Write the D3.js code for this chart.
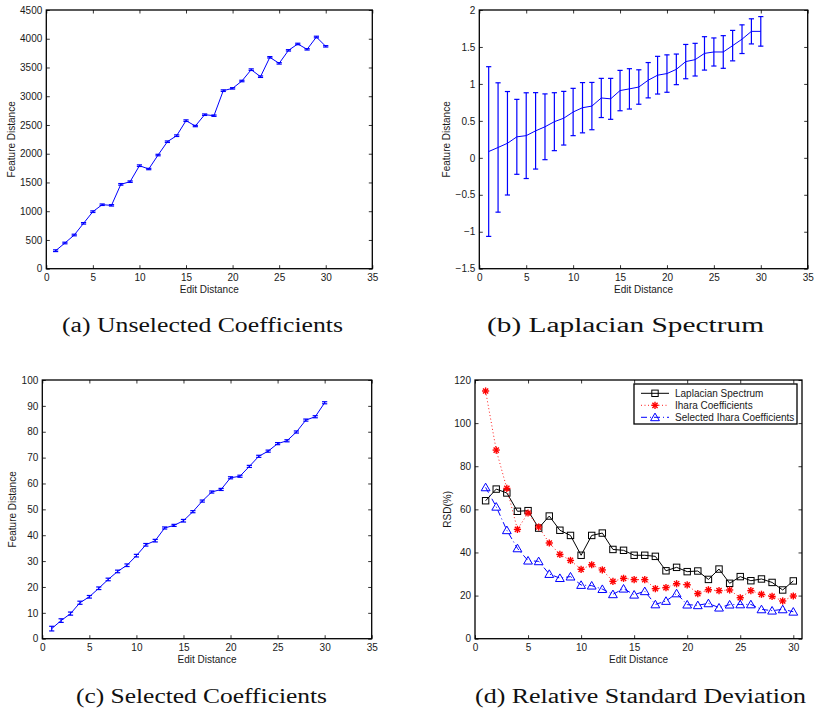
<!DOCTYPE html>
<html>
<head>
<meta charset="utf-8">
<script src="https://cdn.jsdelivr.net/npm/d3@7"></script>
<style>
  html, body { margin: 0; padding: 0; background: #fff; }
  svg { display: block; }
</style>
</head>
<body>
<svg id="chart" width="814" height="713"></svg>
<script>
// ---------------- DATA ----------------
const editDistance = [1,2,3,4,5,6,7,8,9,10,11,12,13,14,15,16,17,18,19,20,21,22,23,24,25,26,27,28,29,30];

// (a) Unselected coefficients: mean feature distance and (tiny) error
const unselectedMean = [313,447,586,789,992,1113,1102,1467,1514,1792,1734,1977,2209,2314,2575,2482,2679,2662,3097,3137,3265,3462,3340,3677,3572,3798,3909,3816,4030,3868];
const unselectedErr  = [15,14,14,13,14,13,12,14,13,14,12,13,13,14,14,12,13,12,14,12,13,14,13,12,13,12,13,12,14,12];

// (b) Laplacian spectrum: mean and error
const laplacianMean = [0.085,0.14,0.197,0.284,0.30,0.365,0.42,0.489,0.536,0.62,0.678,0.70,0.81,0.798,0.91,0.933,0.958,1.05,1.118,1.14,1.197,1.302,1.328,1.413,1.432,1.432,1.518,1.605,1.711,1.711];
const laplacianErr  = [1.148,0.875,0.70,0.507,0.58,0.517,0.445,0.392,0.363,0.32,0.34,0.32,0.265,0.277,0.273,0.273,0.233,0.239,0.255,0.253,0.207,0.232,0.221,0.226,0.19,0.221,0.206,0.194,0.17,0.20];

// (c) Selected coefficients: mean and error
const selectedMean = [3.9,7.0,9.7,13.9,16.2,19.5,22.9,26.0,28.4,32.1,36.3,37.9,42.8,43.8,45.6,49.1,53.2,56.7,57.7,62.2,62.8,66.6,70.5,72.5,75.4,76.5,79.9,84.5,85.8,91.2];
const selectedErr  = [0.9,0.7,0.6,0.6,0.5,0.5,0.5,0.5,0.5,0.5,0.5,0.5,0.4,0.4,0.5,0.4,0.4,0.4,0.4,0.4,0.4,0.4,0.4,0.4,0.4,0.4,0.4,0.4,0.4,0.4];

// (d) Relative standard deviation (%)
const rsdLaplacian = [64.0,69.4,67.6,59.1,59.4,51.3,56.9,50.3,47.9,38.7,47.9,49.0,41.4,41.0,38.7,38.7,38.2,31.5,33.1,31.1,31.4,27.5,32.3,25.7,28.8,26.9,27.7,26.1,22.6,26.8];
const rsdIhara     = [114.9,87.5,69.7,50.7,58.3,51.8,44.4,39.1,36.3,32.2,34.3,31.9,26.6,28.0,27.4,27.4,23.2,23.7,25.5,25.0,20.9,22.7,22.3,22.6,19.0,22.3,20.6,19.6,17.5,19.8];
const rsdSelected  = [70.2,61.2,50.3,41.9,36.2,35.9,30.0,28.1,28.8,24.9,24.6,23.0,20.6,23.2,20.4,22.0,15.9,17.5,21.0,15.8,15.5,16.4,14.4,15.8,15.9,15.9,13.6,13.0,13.6,12.5];

const legendLabels = ["Laplacian Spectrum","Ihara Coefficients","Selected Ihara Coefficients"];
const captions = ["(a) Unselected Coefficients","(b) Laplacian Spectrum","(c) Selected Coefficients","(d) Relative Standard Deviation"];

const xTicks35 = [0,5,10,15,20,25,30,35];
const xTicks30 = [0,5,10,15,20,25,30];
const yTicksA = [0,500,1000,1500,2000,2500,3000,3500,4000,4500];
const yTicksB = [-1.5,-1,-0.5,0,0.5,1,1.5,2];
const yTicksC = [0,10,20,30,40,50,60,70,80,90,100];
const yTicksD = [0,20,40,60,80,100,120];

// ---------------- DRAWING ----------------
const svg = d3.select("#chart");
const tickFont = "'Liberation Sans', Arial, Helvetica, sans-serif";
const fs = 10;
const blue = "#0000ff";

function fmtNum(v){ const s = String(v); return v < 0 ? "\u2212" + s.slice(1) : s; }

function panel(cfg){
  const g = svg.append("g");
  const x = d3.scaleLinear().domain(cfg.xDomain).range([cfg.left, cfg.right]);
  const y = d3.scaleLinear().domain(cfg.yDomain).range([cfg.bottom, cfg.top]);
  const tl = 3.5;
  const ax = g.append("g").attr("transform", `translate(0,${cfg.bottom})`)
    .call(d3.axisBottom(x).tickValues(cfg.xTicks).tickSize(-tl).tickPadding(5).tickFormat(fmtNum));
  const ay = g.append("g").attr("transform", `translate(${cfg.left},0)`)
    .call(d3.axisLeft(y).tickValues(cfg.yTicks).tickSize(-tl).tickPadding(4).tickFormat(fmtNum));
  const at = g.append("g").attr("transform", `translate(0,${cfg.top})`)
    .call(d3.axisTop(x).tickValues(cfg.xTicks).tickSize(-tl).tickFormat(""));
  const ar = g.append("g").attr("transform", `translate(${cfg.right},0)`)
    .call(d3.axisRight(y).tickValues(cfg.yTicks).tickSize(-tl).tickFormat(""));
  [ax, ay, at, ar].forEach(a => {
    a.select(".domain").remove();
    a.selectAll(".tick line").attr("stroke", "#000").attr("stroke-width", 0.8);
    a.selectAll("text").attr("font-family", tickFont).attr("font-size", fs).attr("fill", "#1a1a1a");
  });
  ax.selectAll("text").attr("dy", "0.71em");
  g.append("rect").attr("x", cfg.left).attr("y", cfg.top)
    .attr("width", cfg.right - cfg.left).attr("height", cfg.bottom - cfg.top)
    .attr("fill", "none").attr("stroke", "#000").attr("stroke-width", 1.3);
  g.append("text").attr("x", (cfg.left + cfg.right) / 2).attr("y", cfg.bottom + 24)
    .attr("text-anchor", "middle").attr("font-family", tickFont).attr("font-size", fs).attr("fill", "#1a1a1a")
    .text("Edit Distance");
  g.append("text").attr("transform", `translate(${cfg.ylabelX},${(cfg.top + cfg.bottom) / 2}) rotate(-90)`)
    .attr("text-anchor", "middle").attr("font-family", tickFont).attr("font-size", fs).attr("fill", "#1a1a1a")
    .text(cfg.ylabel);
  g.append("text").attr("x", cfg.capX).attr("y", cfg.capY)
    .attr("font-family", "'Liberation Serif', 'Times New Roman', serif").attr("font-size", 20).attr("fill", "#111")
    .attr("textLength", cfg.capW).attr("lengthAdjust", "spacingAndGlyphs")
    .text(cfg.caption);
  return {g, x, y};
}

function errorPanel(p, means, errs){
  const {g, x, y} = p;
  const cap = 2.6;
  const bars = g.append("g").attr("stroke", blue).attr("stroke-width", 1.2).attr("fill", "none");
  editDistance.forEach((d, i) => {
    const cx = x(d), y1 = y(means[i] + errs[i]), y0 = y(means[i] - errs[i]);
    bars.append("line").attr("x1", cx).attr("x2", cx).attr("y1", y1).attr("y2", y0);
    bars.append("line").attr("x1", cx - cap).attr("x2", cx + cap).attr("y1", y1).attr("y2", y1);
    bars.append("line").attr("x1", cx - cap).attr("x2", cx + cap).attr("y1", y0).attr("y2", y0);
  });
  g.append("path").datum(editDistance)
    .attr("d", d3.line().x(d => x(d)).y((d, i) => y(means[i])))
    .attr("fill", "none").attr("stroke", blue).attr("stroke-width", 1);
}

const pa = panel({left:46.3, right:372.3, top:10, bottom:268.7, xDomain:[0,35], yDomain:[0,4500],
  xTicks:xTicks35, yTicks:yTicksA, ylabel:"Feature Distance", ylabelX:15,
  caption:captions[0], capX:62, capY:332, capW:281});
errorPanel(pa, unselectedMean, unselectedErr);

const pb = panel({left:479.3, right:807.7, top:10, bottom:268.7, xDomain:[0,35], yDomain:[-1.5,2],
  xTicks:xTicks35, yTicks:yTicksB, ylabel:"Feature Distance", ylabelX:450,
  caption:captions[1], capX:487, capY:332, capW:277});
errorPanel(pb, laplacianMean, laplacianErr);

const pc = panel({left:42.3, right:371.7, top:380, bottom:638.7, xDomain:[0,35], yDomain:[0,100],
  xTicks:xTicks35, yTicks:yTicksC, ylabel:"Feature Distance", ylabelX:16,
  caption:captions[2], capX:76, capY:703, capW:251});
errorPanel(pc, selectedMean, selectedErr);

const pd = panel({left:475, right:802, top:380, bottom:638.7, xDomain:[0,30.82], yDomain:[0,120],
  xTicks:xTicks30, yTicks:yTicksD, ylabel:"RSD(%)", ylabelX:450.5,
  caption:captions[3], capX:475, capY:703, capW:331});

function drawSquare(g, cx, cy, color){
  g.append("rect").attr("x", cx - 3.2).attr("y", cy - 3.2).attr("width", 6.4).attr("height", 6.4)
    .attr("fill", "none").attr("stroke", color).attr("stroke-width", 1);
}
function drawStar(g, cx, cy, color){
  const r = 3.6, r2 = 2.6;
  const s = g.append("g").attr("stroke", color).attr("stroke-width", 1.4);
  s.append("line").attr("x1", cx - r).attr("x2", cx + r).attr("y1", cy).attr("y2", cy);
  s.append("line").attr("x1", cx).attr("x2", cx).attr("y1", cy - r).attr("y2", cy + r);
  s.append("line").attr("x1", cx - r2).attr("x2", cx + r2).attr("y1", cy - r2).attr("y2", cy + r2);
  s.append("line").attr("x1", cx - r2).attr("x2", cx + r2).attr("y1", cy + r2).attr("y2", cy - r2);
}
function drawTriangle(g, cx, cy, color){
  g.append("path").attr("d", `M${cx},${cy - 4.2}L${cx + 4.4},${cy + 3.4}L${cx - 4.4},${cy + 3.4}Z`)
    .attr("fill", "none").attr("stroke", color).attr("stroke-width", 1);
}

const seriesD = [
  {vals: rsdLaplacian, color: "#000", dash: null, width: 1, marker: drawSquare},
  {vals: rsdIhara, color: "#ff0000", dash: "1,2.5", width: 0.9, marker: drawStar},
  {vals: rsdSelected, color: blue, dash: "6,3,1,3", width: 1, marker: drawTriangle}
];
seriesD.forEach(s => {
  pd.g.append("path").datum(editDistance)
    .attr("d", d3.line().x(d => pd.x(d)).y((d, i) => pd.y(s.vals[i])))
    .attr("fill", "none").attr("stroke", s.color).attr("stroke-width", s.width)
    .attr("stroke-dasharray", s.dash);
  const mg = pd.g.append("g");
  editDistance.forEach((d, i) => s.marker(mg, pd.x(d), pd.y(s.vals[i]), s.color));
});

const lg = pd.g.append("g");
lg.append("rect").attr("x", 634).attr("y", 384).attr("width", 163).attr("height", 40)
  .attr("fill", "#fff").attr("stroke", "#000").attr("stroke-width", 1.3);
seriesD.forEach((s, i) => {
  const yy = 393.3 + i * 12;
  lg.append("line").attr("x1", 641).attr("x2", 669).attr("y1", yy).attr("y2", yy)
    .attr("stroke", s.color).attr("stroke-width", s.width).attr("stroke-dasharray", s.dash);
  s.marker(lg, 655, yy, s.color);
  lg.append("text").attr("x", 675).attr("y", yy).attr("dy", "0.35em")
    .attr("font-family", tickFont).attr("font-size", 10).attr("fill", "#1a1a1a")
    .text(legendLabels[i]);
});
</script>
</body>
</html>
